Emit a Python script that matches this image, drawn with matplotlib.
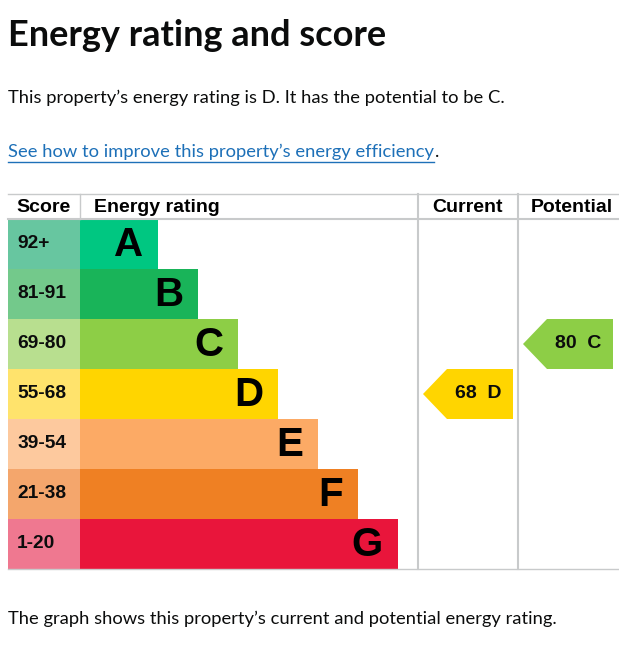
import matplotlib.pyplot as plt
from matplotlib.patches import Polygon

# bands of the energy rating chart
bands = ['A', 'B', 'C', 'D', 'E', 'F', 'G']
score_ranges = ['92+', '81-91', '69-80', '55-68', '39-54', '21-38', '1-20']
band_lengths = [78, 118, 158, 198, 238, 278, 318]
band_colors = ['#00c781', '#19b459', '#8dce46', '#ffd500', '#fcaa65', '#ef8023', '#e9153b']
score_colors = ['#67c6a0', '#73c98b', '#b8df8f', '#ffe36c', '#fdc99e', '#f4a66c', '#ef7890']

current_score, current_band = 68, 'D'
potential_score, potential_band = 80, 'C'

headers = ['Score', 'Energy rating', 'Current', 'Potential']

W, H = 619, 657
fig = plt.figure(figsize=(W / 100, H / 100), dpi=100)
ax = fig.add_axes([0, 0, 1, 1])
ax.set_xlim(0, W)
ax.set_ylim(H, 0)
ax.axis('off')

body = 'Lato'
arial = 'Liberation Sans'
line_col = '#c8cacb'
renderer = fig.canvas.get_renderer()


def fit_text(x, y, s, width, size, **kw):
    # scale the font so the text is as wide as in the reference
    t = ax.text(x, y, s, fontsize=size, family=body, va='center', ha='left',
                color='#0b0c0c', **kw)
    w = t.get_window_extent(renderer).width
    t.set_fontsize(size * width / w)
    return t


# texts above the chart
fit_text(8, 35, 'Energy rating and score', 378, 26, fontweight='bold')
fit_text(8, 98, 'This property\u2019s energy rating is D. It has the potential to be C.', 495, 14)
link = fit_text(8, 152, 'See how to improve this property\u2019s energy efficiency', 427, 14)
link.set_color('#1d70b8')
lw_px = link.get_window_extent(renderer).width
ax.plot([8, 8 + lw_px], [162, 162], color='#1d70b8', lw=1)
ax.text(8 + lw_px + 1, 152, '.', fontsize=link.get_fontsize(), family=body,
        va='center', ha='left', color='#0b0c0c')
fit_text(8, 619, 'The graph shows this property\u2019s current and potential energy rating.', 551, 14)

# table geometry (pixels)
top, head_bot, row_h = 194, 219, 50
left, score_right = 8, 80
col_cur, col_pot = 418, 518
bottom = head_bot + row_h * len(bands)

# header
ax.plot([left, W], [top, top], color=line_col, lw=1)
ax.plot([left, W], [head_bot, head_bot], color=line_col, lw=1.5)
ax.plot([left, W], [bottom, bottom], color=line_col, lw=1)
ax.plot([score_right, score_right], [top, head_bot], color=line_col, lw=1)
for xc in [col_cur, col_pot]:
    ax.plot([xc, xc], [top, bottom], color=line_col, lw=1.5)
for x, h in zip([16, 94, 432, 531], headers):
    ax.text(x, 207, h, fontsize=14, fontweight='bold', family=arial,
            va='center', ha='left', color='black')

# rating bars
centers = [head_bot + row_h * (i + 0.5) for i in range(len(bands))]
ax.barh(centers, [score_right - left] * len(bands), left=left, height=row_h,
        color=score_colors, linewidth=0)
ax.barh(centers, band_lengths, left=score_right, height=row_h,
        color=band_colors, linewidth=0)
for yc, s, b, L in zip(centers, score_ranges, bands, band_lengths):
    ax.text(17, yc, s, fontsize=13.8, fontweight='bold', family=arial,
            va='center', ha='left', color='#0b0c0c')
    ax.text(score_right + L - 15, yc + 1, b, fontsize=29, fontweight='bold',
            family=arial, va='center', ha='right', color='black')


def arrow(score, band, x0, x1):
    i = bands.index(band)
    yc = centers[i]
    pts = [(x0, yc), (x0 + 24, yc - row_h / 2), (x1, yc - row_h / 2),
           (x1, yc + row_h / 2), (x0 + 24, yc + row_h / 2)]
    ax.add_patch(Polygon(pts, closed=True, color=band_colors[i], lw=0))
    ax.text((x0 + 24 + x1) / 2 - 2, yc, f'{score}  {band}', fontsize=14,
            fontweight='bold', family=arial, va='center', ha='center', color='#0b0c0c')


arrow(current_score, current_band, 423, 513)
arrow(potential_score, potential_band, 523, 613)

fig.savefig('out.png', dpi=100)
